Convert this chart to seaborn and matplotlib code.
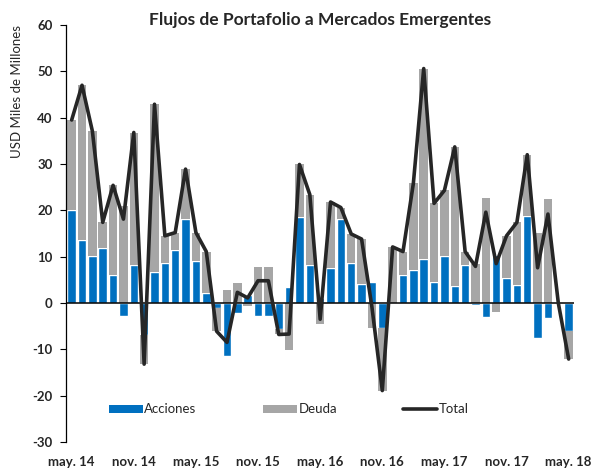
import numpy as np
import pandas as pd
import matplotlib
matplotlib.use("Agg")
import matplotlib.pyplot as plt
from matplotlib.patches import Patch
from matplotlib.lines import Line2D
import seaborn as sns

meses = ["may", "jun", "jul", "ago", "sep", "oct", "nov", "dic", "ene", "feb", "mar", "abr"]
months = []
for i in range(49):
    m = meses[i % 12]
    yr = 14 + (i + 4) // 12
    months.append(f"{m}. {yr}")

acciones = [20.0, 13.6, 10.1, 11.9, 6.1, -2.9, 8.3, -6.9, 6.6, 8.7, 11.5, 18.2,
            9.1, 2.1, -1.1, -11.4, -2.1, 1.8, -2.9, -2.9, -5.6, 3.5, 18.5, 8.1,
            1.1, 7.6, 18.1, 8.6, 4.1, 4.5, -5.4, 0.0, 6.1, 7.2, 9.4, 4.6,
            10.2, 3.7, 8.3, -0.5, -3.1, 10.4, 5.4, 3.9, 18.8, -7.5, -3.2, 0.0,
            -6.1]
deuda = [19.5, 33.4, 27.0, 5.5, 19.3, 21.0, 28.5, -6.3, 36.3, 5.8, 3.7, 10.7,
         6.1, 9.0, -5.0, 2.9, 4.4, -0.7, 7.7, 7.7, -1.2, -10.2, 11.4, 15.3,
         -4.6, 14.2, 2.5, 6.3, 9.7, -5.4, -13.5, 12.1, 5.0, 18.6, 41.2, 16.9,
         14.1, 30.0, 2.8, 8.4, 22.7, -1.9, 9.1, 13.5, 13.2, 15.1, 22.4, 0.0,
         -6.0]
total = [a + d for a, d in zip(acciones, deuda)]

tick_labels = ["may. 14", "nov. 14", "may. 15", "nov. 15", "may. 16",
               "nov. 16", "may. 17", "nov. 17", "may. 18"]

sns.set_theme(style="white")
plt.rcParams["font.family"] = ["Lato", "DejaVu Sans"]

BLUE = "#0070C0"
GRAY = "#A6A6A6"
LINE = "#262626"

df = pd.DataFrame({"mes": months, "acciones": acciones, "deuda": deuda, "total": total})
x = np.arange(len(months))

fig = plt.figure(figsize=(5.99, 4.72), dpi=100)
ax = fig.add_axes([0.111, 0.0636, 0.847, 0.8834])

sns.barplot(data=df, x="mes", y="acciones", order=months, color=BLUE,
            saturation=1, width=0.82, ax=ax, zorder=2)
a = np.array(acciones)
d = np.array(deuda)
bottom = np.where(d >= 0, np.maximum(a, 0), np.minimum(a, 0))
ax.bar(x, d, bottom=bottom, width=0.82, color=GRAY, zorder=2, linewidth=0)
sns.lineplot(x=x, y=df["total"].values, color=LINE, linewidth=2.6, ax=ax,
             zorder=4, sort=False)

ax.axhline(0, color="black", linewidth=1.1, zorder=3)

ax.set_xlim(-0.5, 48.5)
ax.set_ylim(-30, 60)
ax.set_yticks(range(-30, 61, 10))
ax.set_yticklabels([str(v) for v in range(-30, 61, 10)], fontweight="bold", fontsize=9.5)
ax.set_xticks(range(0, 49, 6))
ax.set_xticklabels(tick_labels, fontweight="bold", fontsize=9.5)
ax.tick_params(axis="x", length=0, pad=10)
ax.tick_params(axis="y", length=4, width=0.8, color="black", direction="out", pad=6,
               left=True)
for s in ["top", "right", "bottom"]:
    ax.spines[s].set_visible(False)
ax.spines["left"].set_color("black")
ax.spines["left"].set_linewidth(0.9)
ax.set_xlabel("")
ax.set_ylabel("USD Miles de Millones", fontsize=9.5)
ax.yaxis.set_label_coords(-0.085, 0.84)
ax.set_title("Flujos de Portafolio a Mercados Emergentes", fontweight="bold",
             fontsize=12.5, pad=0)

handles = [Patch(facecolor=BLUE, edgecolor="none"),
           Patch(facecolor=GRAY, edgecolor="none"),
           Line2D([0], [0], color=LINE, linewidth=2.6)]
leg = ax.legend(handles, ["Acciones", "Deuda", "Total"], loc="center left",
                bbox_to_anchor=(0.06, 0.078), ncol=3, frameon=False,
                fontsize=9.5, handlelength=2.6, handleheight=0.6,
                handletextpad=0.1, columnspacing=5.0)

fig.savefig("out.png", dpi=100)
